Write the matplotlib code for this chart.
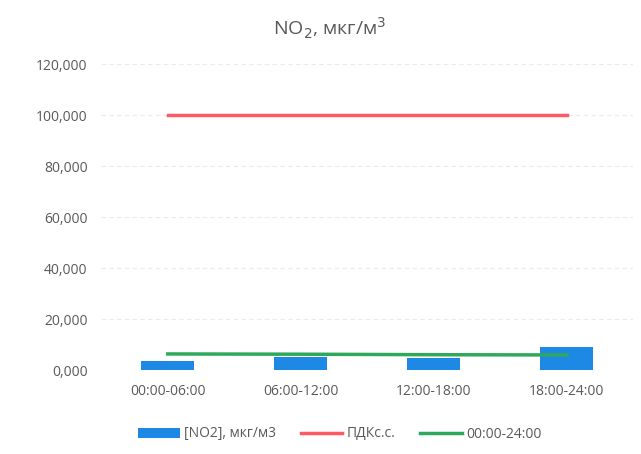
import matplotlib.pyplot as plt
from matplotlib.ticker import FuncFormatter

categories = ['00:00-06:00', '06:00-12:00', '12:00-18:00', '18:00-24:00']
no2_values = [3500, 5100, 4800, 9000]
pdk_values = [100000, 100000, 100000, 100000]
daily_values = [6300, 6200, 6000, 5900]

plt.rcParams['font.family'] = ['Open Sans', 'DejaVu Sans']
text_color = '#595959'

fig = plt.figure(figsize=(6.41, 4.54), dpi=100)
ax = fig.add_axes([0.158, 0.185, 0.83, 0.674])

x = range(len(categories))
bars = ax.bar(x, no2_values, width=0.4, color='#1E88E5', label='[NO2], мкг/м3', zorder=2)
l1, = ax.plot(x, pdk_values, color='#FF5A64', linewidth=2.5, label='ПДКс.с.', zorder=3)
l2, = ax.plot(x, daily_values, color='#2EA85A', linewidth=2.5, label='00:00-24:00', zorder=3)

ax.set_ylim(0, 120000)
ax.set_yticks(range(0, 120001, 20000))
ax.yaxis.set_major_formatter(FuncFormatter(lambda v, p: '{:,.3f}'.format(v / 1000).replace('.', ',') if v else '0,000'))
ax.set_xlim(-0.5, 3.5)
ax.set_xticks(list(x))
ax.set_xticklabels(categories)
ax.tick_params(axis='both', length=0, labelsize=10, colors=text_color, pad=10)
ax.grid(axis='y', color='#EBEBEB', linewidth=0.8, linestyle=(0, (4, 3)), zorder=0)
for s in ax.spines.values():
    s.set_visible(False)

fig.suptitle('NO$_2$, мкг/м$^3$', fontsize=14, color=text_color, x=0.515, y=0.965)

fig.legend(handles=[bars, l1, l2], loc='lower center', ncol=3, frameon=False, fontsize=10,
           labelcolor=text_color, bbox_to_anchor=(0.53, 0.0), handlelength=3.0,
           columnspacing=1.8, handletextpad=0.3)

fig.savefig('out.png', dpi=100)
